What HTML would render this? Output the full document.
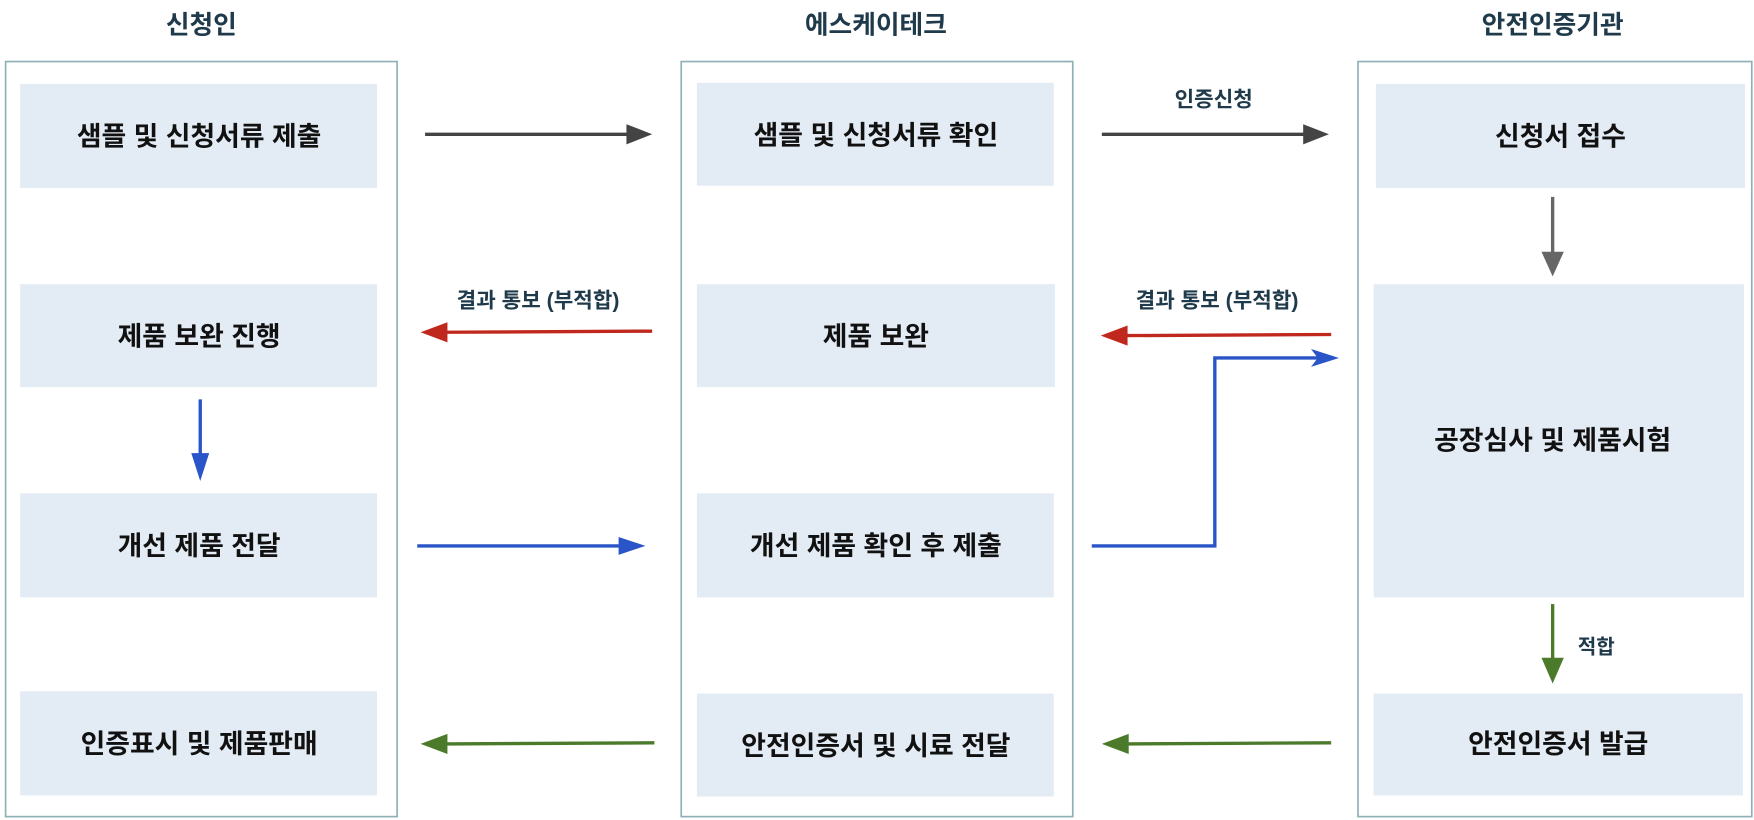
<!DOCTYPE html>
<html><head><meta charset="utf-8"><style>
html,body{margin:0;padding:0;background:#fff;}
svg{display:block;}
text{font-family:"Liberation Sans","Noto Sans CJK KR",sans-serif;font-weight:bold;}
</style></head><body>
<svg width="1754" height="820" viewBox="0 0 1568 733" xmlns="http://www.w3.org/2000/svg">
<g fill="#1f3a4a" font-size="23" text-anchor="middle">
<text x="180" y="30">신청인</text>
<text x="783" y="30">에스케이테크</text>
<text x="1388" y="30">안전인증기관</text>
</g>
<g fill="none" stroke="#90b0b8" stroke-width="1.5">
<rect x="5" y="55" width="350" height="675"/>
<rect x="609" y="55" width="350" height="675"/>
<rect x="1214" y="55" width="352" height="675"/>
</g>
<g fill="#e3ebf5">
<rect x="18" y="75" width="319" height="93"/>
<rect x="18" y="254" width="319" height="92"/>
<rect x="18" y="441" width="319" height="93"/>
<rect x="18" y="618" width="319" height="93"/>
<rect x="623" y="74" width="319" height="92"/>
<rect x="623" y="254" width="320" height="92"/>
<rect x="623" y="441" width="319" height="93"/>
<rect x="623" y="620" width="319" height="92"/>
<rect x="1230" y="75" width="330" height="93"/>
<rect x="1228" y="254" width="331" height="280"/>
<rect x="1228" y="620" width="330" height="91"/>
</g>
<g fill="#111" font-size="24" text-anchor="middle">
<text x="178" y="130">샘플 및 신청서류 제출</text>
<text x="178" y="309">제품 보완 진행</text>
<text x="178" y="496">개선 제품 전달</text>
<text x="178" y="673">인증표시 및 제품판매</text>
<text x="783" y="129">샘플 및 신청서류 확인</text>
<text x="783" y="309">제품 보완</text>
<text x="783" y="496">개선 제품 확인 후 제출</text>
<text x="783" y="675">안전인증서 및 시료 전달</text>
<text x="1395" y="130">신청서 접수</text>
<text x="1388" y="402">공장심사 및 제품시험</text>
<text x="1393" y="673">안전인증서 발급</text>
</g>
<g fill="#1f3a4a" font-size="19" text-anchor="middle">
<text x="1085" y="95">인증신청</text>
<text x="481" y="275">결과 통보 (부적합)</text>
<text x="1088" y="275">결과 통보 (부적합)</text>
<text x="1427" y="584" font-size="18">적합</text>
</g>
<g stroke="#444" stroke-width="3" fill="#444">
<line x1="380" y1="120" x2="562" y2="120"/><path d="M560,111 L583,120 L560,129 Z" stroke="none"/>
<line x1="985" y1="120" x2="1167" y2="120"/><path d="M1165,111 L1188,120 L1165,129 Z" stroke="none"/>
</g>
<g stroke="#666" stroke-width="3" fill="#666">
<line x1="1388" y1="176" x2="1388" y2="228"/><path d="M1378,225 L1388,247 L1398,225 Z" stroke="none"/>
</g>
<g stroke="#c0281e" stroke-width="3" fill="#c0281e">
<line x1="583" y1="296" x2="397" y2="297"/><path d="M400,288 L376,297 L400,306 Z" stroke="none"/>
<line x1="1190" y1="299" x2="1005" y2="300"/><path d="M1008,291 L984,300 L1008,309 Z" stroke="none"/>
</g>
<g stroke="#2a55c8" stroke-width="3" fill="#2a55c8">
<line x1="179" y1="357" x2="179" y2="410"/><path d="M171,405 L179,430 L187,405 Z" stroke="none"/>
<line x1="373" y1="488" x2="556" y2="488"/><path d="M553,480 L577,488 L553,496 Z" stroke="none"/>
<polyline points="976,488 1086,488 1086,320 1192,320" fill="none"/>
<path d="M1172,312 L1197,320 L1172,328 L1178,320 Z" stroke="none"/>
</g>
<g stroke="#4a7a2a" stroke-width="3" fill="#4a7a2a">
<line x1="1388" y1="540" x2="1388" y2="592"/><path d="M1378,588 L1388,611 L1398,588 Z" stroke="none"/>
<line x1="585" y1="664" x2="398" y2="665"/><path d="M400,656 L376,665 L400,674 Z" stroke="none"/>
<line x1="1190" y1="664" x2="1007" y2="665"/><path d="M1009,656 L985,665 L1009,674 Z" stroke="none"/>
</g>
</svg>
</body></html>
